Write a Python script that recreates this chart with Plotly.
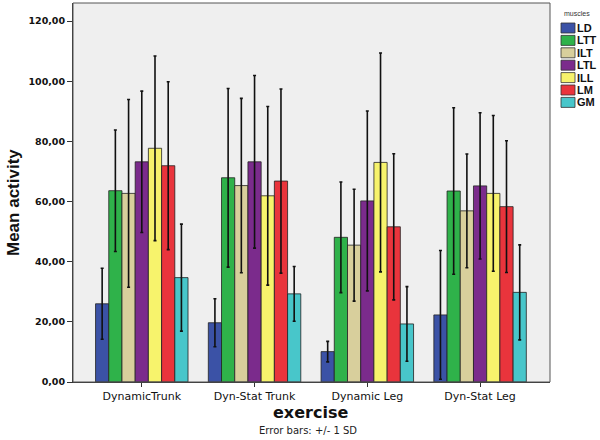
import plotly.graph_objects as go

exercises = ["DynamicTrunk", "Dyn-Stat Trunk", "Dynamic Leg", "Dyn-Stat Leg"]
muscles = ["LD", "LTT", "ILT", "LTL", "ILL", "LM", "GM"]
colors = ["#3b52a6", "#2fb24a", "#d8cf9c", "#7b2b8c", "#f7f36c", "#e9343c", "#48c6ca"]

# mean activity per muscle, one value per exercise
means = {
    "LD":  [26.0, 19.7, 10.1, 22.3],
    "LTT": [63.6, 67.9, 48.1, 63.5],
    "ILT": [62.7, 65.3, 45.5, 56.9],
    "LTL": [73.2, 73.2, 60.2, 65.2],
    "ILL": [77.7, 61.9, 73.0, 62.7],
    "LM":  [71.9, 66.8, 51.6, 58.3],
    "GM":  [34.7, 29.3, 19.3, 29.8],
}
# standard deviations (error bars +/- 1 SD)
sds = {
    "LD":  [11.8, 8.0, 3.4, 21.4],
    "LTT": [20.2, 29.7, 18.4, 27.7],
    "ILT": [31.2, 29.0, 18.6, 18.9],
    "LTL": [23.5, 28.7, 29.9, 24.3],
    "ILL": [30.7, 29.7, 36.4, 25.9],
    "LM":  [27.9, 30.6, 24.3, 21.9],
    "GM":  [17.8, 9.1, 12.4, 15.8],
}

yticks = [0, 20, 40, 60, 80, 100, 120]
yticktext = [f"{v:.2f}".replace(".", ",") for v in yticks]

W, H = 600, 440
ML, MR, MT, MB = 73, 50, 3, 58
PW, PH = W - ML - MR, H - MT - MB


def px(X):
    return (X - ML) / PW


def py(Y):
    return (H - MB - Y) / PH


fig = go.Figure()
for m, c in zip(muscles, colors):
    fig.add_trace(go.Bar(
        x=exercises, y=means[m], name=m, showlegend=False,
        marker=dict(color=c, line=dict(color="#222222", width=0.8)),
        error_y=dict(type="data", array=sds[m], visible=True,
                     color="#111111", thickness=1.6, width=1.5),
    ))

shapes = [dict(type="rect", xref="paper", yref="paper", x0=0, y0=0, x1=1, y1=1,
               line=dict(color="#555555", width=1), fillcolor="rgba(0,0,0,0)", layer="above")]
annotations = [
    dict(text="Error bars: +/- 1 SD", xref="paper", yref="paper",
         x=px(308), y=py(430), xanchor="center", yanchor="middle", showarrow=False,
         font=dict(size=10, family="DejaVu Sans", color="#222222")),
    dict(text="exercise", xref="paper", yref="paper",
         x=px(310), y=py(412), xanchor="center", yanchor="middle", showarrow=False,
         font=dict(size=16, family="DejaVu Sans", color="#111111", weight="bold")),
    dict(text="Mean activity", xref="paper", yref="paper", textangle=-90,
         x=px(13), y=py(203), xanchor="center", yanchor="middle", showarrow=False,
         font=dict(size=17, family="Liberation Sans", color="#111111", weight="bold")),
    dict(text="muscles", xref="paper", yref="paper",
         x=px(562), y=py(13), xanchor="left", yanchor="middle", showarrow=False,
         font=dict(size=7, family="Liberation Sans", color="#333333")),
]
# legend (swatches + labels)
for i, (m, c) in enumerate(zip(muscles, colors)):
    yc = 28 + i * 12.4
    shapes.append(dict(type="rect", xref="paper", yref="paper",
                       x0=px(561), x1=px(575), y0=py(yc + 5), y1=py(yc - 5),
                       fillcolor=c, line=dict(color="#333333", width=0.8)))
    annotations.append(dict(text=m, xref="paper", yref="paper",
                            x=px(575), y=py(yc), xanchor="left", yanchor="middle",
                            showarrow=False,
                            font=dict(size=11, family="Liberation Sans", color="#111111",
                                      weight="bold")))

fig.update_layout(
    width=W, height=H,
    margin=dict(l=ML, r=MR, t=MT, b=MB, autoexpand=False),
    paper_bgcolor="white", plot_bgcolor="#efefef",
    barmode="group", bargap=0.18, bargroupgap=0,
    font=dict(family="DejaVu Sans", color="#111111"),
    showlegend=False,
    xaxis=dict(
        range=[-0.61, 3.62], showgrid=False, zeroline=False, automargin=False,
        showline=True, linecolor="#333333", linewidth=1,
        ticks="outside", ticklen=4, tickcolor="#333333",
        tickfont=dict(size=11, family="DejaVu Sans", color="#111111"),
    ),
    yaxis=dict(
        range=[0, 126], showgrid=False, zeroline=False, automargin=False,
        showline=True, linecolor="#333333", linewidth=1,
        tickvals=yticks, ticktext=yticktext,
        ticks="outside", ticklen=5, tickcolor="#333333",
        tickfont=dict(size=9.5, family="DejaVu Sans", color="#111111", weight="bold"),
    ),
    shapes=shapes,
    annotations=annotations,
)

fig.write_html("out.html", config={"displayModeBar": False},
               post_script="document.body.style.margin='0';")
